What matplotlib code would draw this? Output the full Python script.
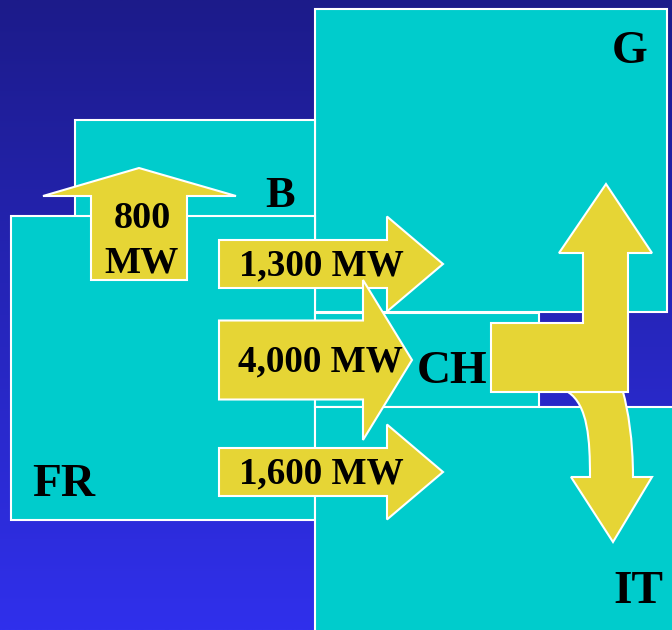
import numpy as np
import matplotlib
matplotlib.use("Agg")
import matplotlib.pyplot as plt
from matplotlib.patches import Rectangle, Polygon, PathPatch
from matplotlib.path import Path

# ---- data ----
regions = ["G", "B", "FR", "CH", "IT"]
flow_names = ["FR->B", "FR->G", "FR->CH", "FR->IT"]
flow_values = [800, 1300, 4000, 1600]

W, H = 672, 630
fig = plt.figure(figsize=(6.72, 6.30), dpi=100)
ax = fig.add_axes([0, 0, 1, 1])
ax.set_xlim(0, W)
ax.set_ylim(H, 0)
ax.axis("off")

# background gradient
top = np.array([28, 27, 138]) / 255
bot = np.array([48, 48, 236]) / 255
t = np.linspace(0, 1, 256)[:, None]
grad = top[None, :] * (1 - t) + bot[None, :] * t
img = np.repeat(grad[:, None, :], 2, axis=1)
ax.imshow(img, extent=[0, W, H, 0], aspect="auto", zorder=0)

cyan = "#00CCCC"
yellow = "#E6D535"
edge = "white"

# country boxes (x0, y0, x1, y1)
boxes = {
    "G": (315, 9, 667, 312),
    "B": (75, 120, 315, 300),
    "FR": (11, 216, 315, 520),
    "CH": (315, 313, 539, 407),
    "IT": (315, 407, 690, 640),
}
for i, name in enumerate(["G", "B", "FR", "CH", "IT"]):
    x0, y0, x1, y1 = boxes[name]
    ax.add_patch(Rectangle((x0, y0), x1 - x0, y1 - y0, facecolor=cyan,
                           edgecolor=edge, linewidth=1.5, zorder=1 + i * 0.1))

font = dict(family=["Liberation Serif", "DejaVu Serif"], fontweight="bold", color="black")

def arrow_right(x0, yc, shaft_w, shaft_end, head_w, tip, z):
    pts = [(x0, yc - shaft_w / 2), (shaft_end, yc - shaft_w / 2),
           (shaft_end, yc - head_w / 2), (tip, yc), (shaft_end, yc + head_w / 2),
           (shaft_end, yc + shaft_w / 2), (x0, yc + shaft_w / 2)]
    ax.add_patch(Polygon(pts, closed=True, facecolor=yellow, edgecolor=edge,
                         linewidth=1.5, zorder=z))

# 800 MW up arrow
up = [(91, 280), (91, 196), (43, 196), (139, 168), (236, 196), (187, 196), (187, 280)]
ax.add_patch(Polygon(up, closed=True, facecolor=yellow, edgecolor=edge, linewidth=1.5, zorder=3))
ax.text(142, 219, f"{flow_values[0]}", ha="center", va="center", fontsize=27.5, zorder=4, **font)
ax.text(142, 263, "MW", ha="center", va="center", fontsize=27.5, zorder=4, **font)

# horizontal flows
arrow_right(219, 264, 48, 387, 95, 443, 3)
ax.text(321, 266, f"{flow_values[1]:,} MW", ha="center", va="center", fontsize=26.7, zorder=5, **font)
arrow_right(219, 472, 48, 387, 95, 443, 3)
ax.text(321, 474, f"{flow_values[3]:,} MW", ha="center", va="center", fontsize=26.7, zorder=5, **font)
arrow_right(219, 360, 79, 363, 160, 412, 4)
ax.text(320, 362, f"{flow_values[2]:,} MW", ha="center", va="center", fontsize=26.7, zorder=5, **font)

# CH transit arrows: curved down arrow
verts = [(568, 392), (588, 405), (590, 440), (590, 477),
         (571, 477), (613, 542), (652, 477), (633, 477),
         (633, 440), (628, 410), (623, 392), (568, 392)]
codes = [Path.MOVETO, Path.CURVE4, Path.CURVE4, Path.CURVE4,
         Path.LINETO, Path.LINETO, Path.LINETO, Path.LINETO,
         Path.CURVE4, Path.CURVE4, Path.CURVE4, Path.CLOSEPOLY]
ax.add_patch(PathPatch(Path(verts, codes), facecolor=yellow, edgecolor=edge,
                       linewidth=1.5, zorder=6))
# L-shaped up arrow
L = [(491, 323), (583, 323), (583, 253), (559, 253), (606, 184), (652, 253),
     (628, 253), (628, 392), (491, 392)]
ax.add_patch(Polygon(L, closed=True, facecolor=yellow, edgecolor=edge, linewidth=1.5, zorder=7))

# region labels
ax.text(630, 52, regions[0], ha="center", va="center", fontsize=33, zorder=8, **font)
ax.text(280, 196, regions[1], ha="center", va="center", fontsize=32, zorder=8, **font)
ax.text(64, 485, regions[2], ha="center", va="center", fontsize=34, zorder=8, **font)
ax.text(452, 372, regions[3], ha="center", va="center", fontsize=34, zorder=8, **font)
ax.text(638, 592, regions[4], ha="center", va="center", fontsize=34, zorder=8, **font)

fig.savefig("out.png", dpi=100)
